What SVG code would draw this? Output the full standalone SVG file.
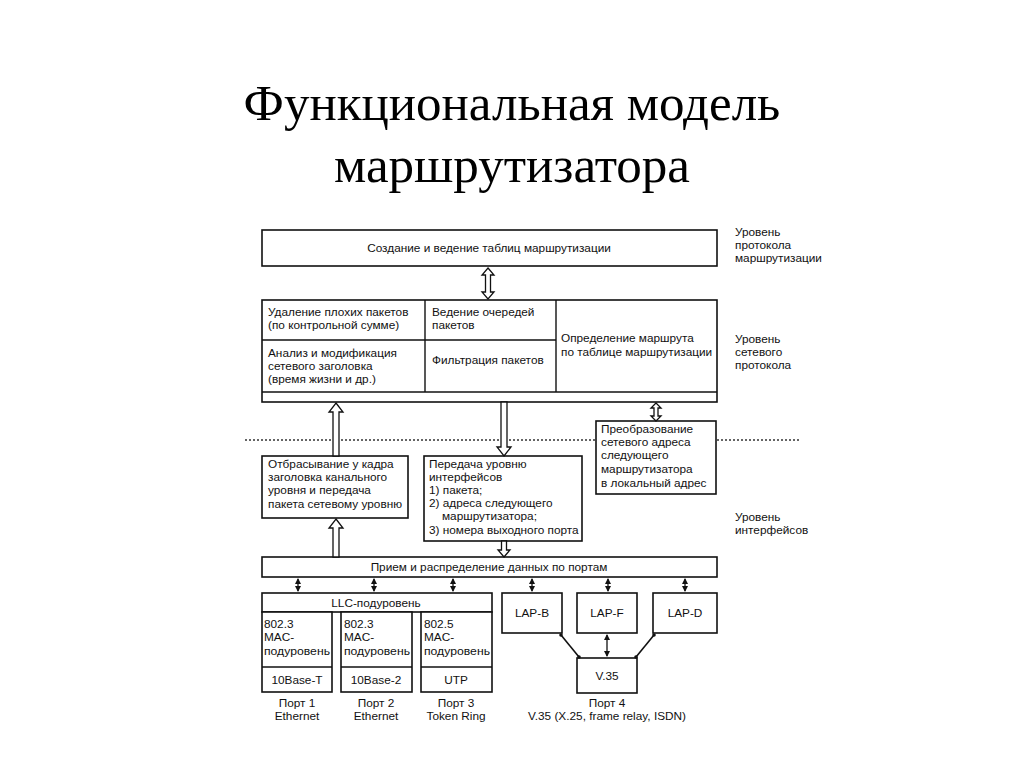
<svg xmlns="http://www.w3.org/2000/svg" width="1024" height="768" viewBox="0 0 1024 768">
<style>
.t{font-family:"Liberation Sans",Arial,sans-serif;font-size:11.8px;fill:#111}
.c{text-anchor:middle}
.title{font-family:"Liberation Serif","Times New Roman",serif;font-size:51px;fill:#000;text-anchor:middle}
.b{fill:#fff;stroke:#111;stroke-width:1.6}
.l{fill:none;stroke:#111;stroke-width:1.4}
.ha{fill:#fff;stroke:#111;stroke-width:1.3}
.th{stroke:#111;stroke-width:1.3;fill:none;marker-start:url(#ah);marker-end:url(#ah)}
</style>
<defs>
<marker id="ah" markerWidth="6" markerHeight="6" refX="5" refY="3" orient="auto-start-reverse" markerUnits="userSpaceOnUse">
<path d="M0,0 L6,3 L0,6 z" fill="#111"/>
</marker>
</defs>
<rect width="1024" height="768" fill="#fff"/>
<g id="title">
<text class="title" x="512" y="120">Функциональная модель</text>
<text class="title" x="512" y="182">маршрутизатора</text>
</g>
<g id="levels" class="t">
<text x="735" y="236">Уровень</text><text x="735" y="249">протокола</text><text x="735" y="262">маршрутизации</text>
<text x="735" y="343">Уровень</text><text x="735" y="356">сетевого</text><text x="735" y="369">протокола</text>
<text x="735" y="521">Уровень</text><text x="735" y="534">интерфейсов</text>
</g>
<line x1="245" y1="440" x2="800" y2="440" stroke="#333" stroke-width="1.4" stroke-dasharray="2,2"/>
<g id="routing-table">
<rect class="b" x="262" y="230" width="455" height="36"/>
<text class="t c" x="489" y="252">Создание и ведение таблиц маршрутизации</text>
</g>
<g id="network">
<rect class="b" x="262" y="300" width="455" height="102"/>
<line class="l" x1="262" y1="392" x2="717" y2="392"/>
<line class="l" x1="425" y1="300" x2="425" y2="392"/>
<line class="l" x1="556" y1="300" x2="556" y2="392"/>
<line class="l" x1="262" y1="340" x2="556" y2="340"/>
<text class="t" x="268" y="316">Удаление плохих пакетов</text>
<text class="t" x="268" y="329">(по контрольной сумме)</text>
<text class="t" x="432" y="316">Ведение очередей</text>
<text class="t" x="432" y="329">пакетов</text>
<text class="t" x="268" y="357">Анализ и модификация</text>
<text class="t" x="268" y="370">сетевого заголовка</text>
<text class="t" x="268" y="383">(время жизни и др.)</text>
<text class="t" x="432" y="364">Фильтрация пакетов</text>
<text class="t" x="561" y="342">Определение маршрута</text>
<text class="t" x="561" y="356">по таблице маршрутизации</text>
</g>
<g id="convert">
<rect class="b" x="596" y="421" width="120" height="73"/>
<text class="t" x="601" y="433">Преобразование</text>
<text class="t" x="601" y="446">сетевого адреса</text>
<text class="t" x="601" y="459">следующего</text>
<text class="t" x="601" y="473">маршрутизатора</text>
<text class="t" x="601" y="487">в локальный адрес</text>
</g>
<g id="strip">
<rect class="b" x="262" y="456" width="146" height="62"/>
<text class="t" x="268" y="468">Отбрасывание у кадра</text>
<text class="t" x="268" y="481">заголовка канального</text>
<text class="t" x="268" y="494">уровня и передача</text>
<text class="t" x="268" y="508">пакета сетевому уровню</text>
</g>
<g id="pass">
<rect class="b" x="424" y="456" width="158" height="85"/>
<text class="t" x="429" y="468">Передача уровню</text>
<text class="t" x="429" y="481">интерфейсов</text>
<text class="t" x="429" y="494">1) пакета;</text>
<text class="t" x="429" y="507">2) адреса следующего</text>
<text class="t" x="442" y="520">маршрутизатора;</text>
<text class="t" x="429" y="534">3) номера выходного порта</text>
</g>
<g id="receive">
<rect class="b" x="262" y="557" width="455" height="20"/>
<text class="t c" x="489" y="571">Прием и распределение данных по портам</text>
</g>
<g id="llc">
<rect class="b" x="262" y="593" width="230" height="19"/>
<text class="t c" x="376" y="607">LLC-подуровень</text>
</g>
<g id="port1">
<rect class="b" x="262" y="612" width="70" height="80"/>
<line class="l" x1="262" y1="667" x2="332" y2="667"/>
<text class="t" x="264" y="628">802.3</text><text class="t" x="264" y="641">MAC-</text><text class="t" x="264" y="655" textLength="66" lengthAdjust="spacingAndGlyphs">подуровень</text>
<text class="t c" x="297" y="684">10Base-T</text>
<text class="t c" x="297" y="707">Порт 1</text><text class="t c" x="297" y="720">Ethernet</text>
</g>
<g id="port2">
<rect class="b" x="341" y="612" width="71" height="80"/>
<line class="l" x1="341" y1="667" x2="412" y2="667"/>
<text class="t" x="344" y="628">802.3</text><text class="t" x="344" y="641">MAC-</text><text class="t" x="344" y="655" textLength="66" lengthAdjust="spacingAndGlyphs">подуровень</text>
<text class="t c" x="376" y="684">10Base-2</text>
<text class="t c" x="376" y="707">Порт 2</text><text class="t c" x="376" y="720">Ethernet</text>
</g>
<g id="port3">
<rect class="b" x="421" y="612" width="71" height="80"/>
<line class="l" x1="421" y1="667" x2="492" y2="667"/>
<text class="t" x="424" y="628">802.5</text><text class="t" x="424" y="641">MAC-</text><text class="t" x="424" y="655" textLength="66" lengthAdjust="spacingAndGlyphs">подуровень</text>
<text class="t c" x="456" y="684">UTP</text>
<text class="t c" x="456" y="707">Порт 3</text><text class="t c" x="456" y="720">Token Ring</text>
</g>
<g id="lapb"><rect class="b" x="502" y="593" width="60" height="40"/><text class="t c" x="532" y="617">LAP-B</text></g>
<g id="lapf"><rect class="b" x="577" y="593" width="60" height="40"/><text class="t c" x="607" y="617">LAP-F</text></g>
<g id="lapd"><rect class="b" x="653" y="593" width="64" height="40"/><text class="t c" x="685" y="617">LAP-D</text></g>
<g id="v35">
<rect class="b" x="577" y="658" width="60" height="35"/>
<text class="t c" x="607" y="680">V.35</text>
<text class="t c" x="607" y="707">Порт 4</text>
<text class="t c" x="607" y="720">V.35 (X.25, frame relay, ISDN)</text>
</g>
<g id="connectors">
<path class="ha" d="M488,268 L494,275 L490.5,275 L490.5,292 L494,292 L488,299 L482,292 L485.5,292 L485.5,275 L482,275 Z"/>
<path class="ha" d="M336,403 L343,412 L339,412 L339,456 L333,456 L333,412 L329,412 Z"/>
<path class="ha" d="M504,456 L511,447 L507,447 L507,402 L501,402 L501,447 L497,447 Z"/>
<path class="ha" d="M656,403 L661,408 L658,408 L658,416 L661,416 L656,421 L651,416 L654,416 L654,408 L651,408 Z"/>
<path class="ha" d="M336,519 L343,528 L339,528 L339,557 L333,557 L333,528 L329,528 Z"/>
<path class="ha" d="M504,557 L510,550 L506.5,550 L506.5,541 L501.5,541 L501.5,550 L498,550 Z"/>
<line class="th" x1="298" y1="579" x2="298" y2="591"/>
<line class="th" x1="374" y1="579" x2="374" y2="591"/>
<line class="th" x1="453" y1="579" x2="453" y2="591"/>
<line class="th" x1="532" y1="579" x2="532" y2="591"/>
<line class="th" x1="608" y1="579" x2="608" y2="591"/>
<line class="th" x1="685" y1="579" x2="685" y2="591"/>
<line class="th" x1="607" y1="635" x2="607" y2="656"/>
<line stroke="#111" stroke-width="1.6" x1="561" y1="635" x2="579" y2="657"/>
<line stroke="#111" stroke-width="1.6" x1="654" y1="635" x2="636" y2="657"/>
<circle cx="561" cy="635" r="1.8" fill="#111"/><circle cx="579" cy="657" r="1.8" fill="#111"/>
<circle cx="654" cy="635" r="1.8" fill="#111"/><circle cx="636" cy="657" r="1.8" fill="#111"/>
</g>
</svg>
